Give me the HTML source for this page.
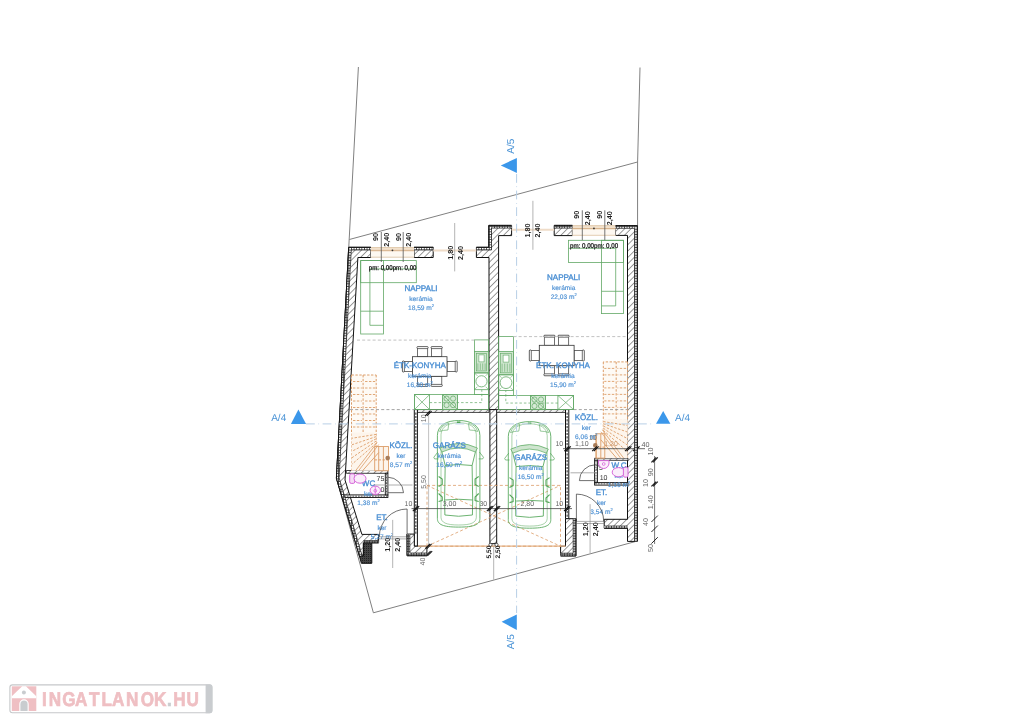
<!DOCTYPE html>
<html><head><meta charset="utf-8"><style>
html,body{margin:0;padding:0;background:#fff;width:1024px;height:724px;overflow:hidden}
svg{display:block;will-change:transform}
text{font-family:"Liberation Sans",sans-serif;text-rendering:geometricPrecision}
</style></head><body>
<svg width="1024" height="724" viewBox="0 0 1024 724">
<defs>
<pattern id="h" patternUnits="userSpaceOnUse" width="4.5" height="4.5" patternTransform="rotate(45)">
<rect width="4.5" height="4.5" fill="#fff"/><line x1="0" y1="0" x2="0" y2="4.5" stroke="#222" stroke-width="0.9"/></pattern>
<pattern id="x" patternUnits="userSpaceOnUse" width="2" height="2">
<rect width="2" height="2" fill="#444"/><rect width="1" height="1" fill="#222"/></pattern>
<pattern id="ins" patternUnits="userSpaceOnUse" width="2.6" height="2.6">
<rect width="2.6" height="2.6" fill="#fff"/><rect x="0" y="0" width="0.8" height="2.6" fill="#333"/><rect x="0" y="0" width="2.6" height="0.8" fill="#333"/></pattern>
</defs>
<polyline points="358.4,67 336.4,478.2 373.4,612.8 637.4,541" fill="none" stroke="#808080" stroke-width="1"/>
<polyline points="640,67.5 637.6,162 637.4,541" fill="none" stroke="#808080" stroke-width="1"/>
<line x1="349.3" y1="239.5" x2="637.5" y2="162" stroke="#808080" stroke-width="1" />
<polygon points="516.9,158 516.9,173.1 500.8,165.4" fill="#3b97ea"/>
<polygon points="516.8,614.4 516.8,630 501.6,621.8" fill="#3b97ea"/>
<polygon points="290.9,423.9 306.1,423.9 298.4,409.4" fill="#3b97ea"/>
<polygon points="656,423.8 670.4,423.8 663.2,411" fill="#3b97ea"/>
<text x="514.5" y="146.2" font-size="10" fill="#4a93d6" text-anchor="middle" font-weight="normal" transform="rotate(-90 514.5 146.2)" >A/5</text>
<text x="514.5" y="641.8" font-size="10" fill="#4a93d6" text-anchor="middle" font-weight="normal" transform="rotate(-90 514.5 641.8)" >A/5</text>
<text x="278.7" y="421" font-size="10" fill="#4a93d6" text-anchor="middle" font-weight="normal" >A/4</text>
<text x="682.5" y="421" font-size="10" fill="#4a93d6" text-anchor="middle" font-weight="normal" >A/4</text>
<polygon points="348.7,247.3 370.8,247.3 370.8,257.5 357.9,257.5 345.0,480 361.9,534.4 378.6,534.4 378.6,542.8 363.4,542.8 363.4,556 359.4,556 336.4,478.2" fill="url(#h)" stroke="#111" stroke-width="1" />
<polygon points="363.4,542.8 371.8,542.8 371.8,563.3 361.4,563.3 359.4,556 363.4,556" fill="url(#x)" stroke="#111" stroke-width="1" />
<polygon points="414.1,247.3 433.2,247.3 433.2,257.5 414.1,257.5" fill="url(#h)" stroke="#111" stroke-width="1" />
<polygon points="476.4,247.3 488.8,247.3 488.8,225.4 511.6,225.4 511.6,235.6 498.6,235.6 498.6,409.6 489,409.6 489,257.5 476.4,257.5" fill="url(#h)" stroke="#111" stroke-width="1" />
<polygon points="489.9,409.6 496.7,409.6 496.7,543.7 489.9,543.7" fill="url(#h)" stroke="#111" stroke-width="1" />
<polygon points="554.2,225.4 572.4,225.4 572.4,235.6 554.2,235.6" fill="url(#h)" stroke="#111" stroke-width="1" />
<polygon points="615.5,225.6 637.2,225.6 637.2,541.4 627.5,541.4 627.5,528.2 604.2,528.2 604.2,519.3 627.5,519.3 627.5,235.4 615.5,235.4" fill="url(#h)" stroke="#111" stroke-width="1" />
<polygon points="417.4,409.6 489,409.6 489,412.4 417.4,412.4" fill="url(#h)" stroke="#111" stroke-width="0.8" />
<polygon points="496.7,409.6 565.5,409.6 565.5,412.4 496.7,412.4" fill="url(#h)" stroke="#111" stroke-width="0.8" />
<polygon points="414.3,409.6 417.4,409.6 417.4,546.2 414.3,546.2" fill="#fff" stroke="#111" stroke-width="1" />
<line x1="415.85" y1="412.5" x2="415.85" y2="534" stroke="#666" stroke-width="1.5" stroke-dasharray="2.2,1.2"/>
<polygon points="407.1,534.1 414.3,534.1 414.3,546.2 426.9,546.2 426.9,555.7 407.1,555.7" fill="url(#h)" stroke="#111" stroke-width="1" />
<polygon points="565.5,409.6 568.8,409.6 568.8,518.7 565.5,518.7" fill="#fff" stroke="#111" stroke-width="1" />
<line x1="567.15" y1="412.5" x2="567.15" y2="518.7" stroke="#666" stroke-width="1.5" stroke-dasharray="2.2,1.2"/>
<polygon points="565.5,518.7 575.9,518.7 575.9,555.9 560.6,555.9 560.6,546.2 565.5,546.2" fill="url(#h)" stroke="#111" stroke-width="1" />
<rect x="370.8" y="247.3" width="43.30000000000001" height="10.199999999999989" fill="#fdf8f1"/>
<rect x="370.8" y="247.3" width="43.30000000000001" height="4.385999999999995" fill="#f4e3cf"/>
<line x1="370.8" y1="247.60000000000002" x2="414.1" y2="247.60000000000002" stroke="#dcc2a2" stroke-width="0.8" />
<line x1="370.8" y1="257.2" x2="414.1" y2="257.2" stroke="#dcc2a2" stroke-width="0.8" />
<line x1="370.8" y1="250.36" x2="414.1" y2="250.36" stroke="#d2ad86" stroke-width="0.9" />
<circle cx="392.45000000000005" cy="250.36" r="0.9" fill="#333"/>
<rect x="572.4" y="225.4" width="43.10000000000002" height="10.199999999999989" fill="#fdf8f1"/>
<rect x="572.4" y="225.4" width="43.10000000000002" height="4.385999999999995" fill="#f4e3cf"/>
<line x1="572.4" y1="225.70000000000002" x2="615.5" y2="225.70000000000002" stroke="#dcc2a2" stroke-width="0.8" />
<line x1="572.4" y1="235.29999999999998" x2="615.5" y2="235.29999999999998" stroke="#dcc2a2" stroke-width="0.8" />
<line x1="572.4" y1="228.46" x2="615.5" y2="228.46" stroke="#d2ad86" stroke-width="0.9" />
<circle cx="593.95" cy="228.46" r="0.9" fill="#333"/>
<line x1="433.2" y1="250.6" x2="476.4" y2="250.6" stroke="#efdcc8" stroke-width="2" />
<line x1="511.6" y1="229.7" x2="554.2" y2="229.7" stroke="#efdcc8" stroke-width="2" />
<polygon points="346.3,470.5 387.9,470.5 387.9,473.3 346.3,473.3" fill="url(#h)" stroke="#111" stroke-width="0.8" />
<rect x="343.5" y="494.9" width="44.39999999999998" height="2.6000000000000227" fill="#fff" stroke="#111" stroke-width="0.9"/>
<line x1="344.0" y1="496.2" x2="387.4" y2="496.2" stroke="#666" stroke-width="1.2" stroke-dasharray="1.8,1"/>
<rect x="385.3" y="473.3" width="2.599999999999966" height="21.599999999999966" fill="#fff" stroke="#111" stroke-width="0.9"/>
<line x1="386.6" y1="473.8" x2="386.6" y2="494.4" stroke="#666" stroke-width="1.2" stroke-dasharray="1.8,1"/>
<polygon points="594.6,458.2 628,458.2 628,460.3 594.6,460.3" fill="url(#h)" stroke="#111" stroke-width="0.8" />
<rect x="594.6" y="482.6" width="33.39999999999998" height="2.5" fill="#fff" stroke="#111" stroke-width="0.9"/>
<line x1="595.1" y1="483.85" x2="627.5" y2="483.85" stroke="#666" stroke-width="1.2" stroke-dasharray="1.8,1"/>
<rect x="594.6" y="460.3" width="2.7999999999999545" height="22.30000000000001" fill="#fff" stroke="#111" stroke-width="0.9"/>
<line x1="596.0" y1="460.8" x2="596.0" y2="482.1" stroke="#666" stroke-width="1.2" stroke-dasharray="1.8,1"/>
<rect x="360.7" y="260.6" width="55.6" height="22.1" fill="none" stroke="#62a866" stroke-width="0.8" />
<rect x="360.7" y="260.6" width="22.7" height="73.4" fill="none" stroke="#62a866" stroke-width="0.8" />
<polyline points="416.3,268.9 369.9,268.9 369.9,325.3 383.4,325.3" fill="none" stroke="#62a866" stroke-width="0.8" />
<line x1="360.7" y1="311.2" x2="383.4" y2="311.2" stroke="#62a866" stroke-width="0.8" />
<rect x="568.4" y="240.3" width="55.0" height="22.1" fill="none" stroke="#62a866" stroke-width="0.8" />
<rect x="601.6" y="240.3" width="21.8" height="73.3" fill="none" stroke="#62a866" stroke-width="0.8" />
<polyline points="568.4,248.3 615.7,248.3 615.7,305.9 601.6,305.9" fill="none" stroke="#62a866" stroke-width="0.8" />
<line x1="601.6" y1="291.3" x2="623.4" y2="291.3" stroke="#62a866" stroke-width="0.8" />
<rect x="474.4" y="339.9" width="14.200000000000045" height="54.700000000000045" fill="none" stroke="#62a866" stroke-width="0.8" />
<rect x="414.4" y="394.6" width="74.20000000000005" height="15.0" fill="none" stroke="#62a866" stroke-width="0.8" />
<rect x="474.4" y="351.4" width="14.200000000000045" height="21.5" fill="#cfe6cf" stroke="#62a866" stroke-width="0.8"/>
<rect x="476.4" y="353.4" width="10.200000000000045" height="17.5" fill="none" stroke="#62a866" stroke-width="0.6"/>
<rect x="478.9" y="354.9" width="5.2000000000000455" height="7" fill="#fff" stroke="#62a866" stroke-width="0.6"/>
<line x1="477.9" y1="363.4" x2="477.9" y2="369.9" stroke="#62a866" stroke-width="0.6" />
<line x1="480.3" y1="363.4" x2="480.3" y2="369.9" stroke="#62a866" stroke-width="0.6" />
<line x1="482.7" y1="363.4" x2="482.7" y2="369.9" stroke="#62a866" stroke-width="0.6" />
<line x1="485.1" y1="363.4" x2="485.1" y2="369.9" stroke="#62a866" stroke-width="0.6" />
<rect x="474.4" y="372.9" width="14.200000000000045" height="16.80000000000001" fill="none" stroke="#62a866" stroke-width="0.8"/>
<circle cx="481.5" cy="381.29999999999995" r="5.600000000000023" fill="none" stroke="#62a866" stroke-width="0.8"/>
<line x1="474.4" y1="372.9" x2="477.4" y2="375.9" stroke="#62a866" stroke-width="0.6" />
<line x1="488.6" y1="372.9" x2="485.6" y2="375.9" stroke="#62a866" stroke-width="0.6" />
<line x1="474.4" y1="389.7" x2="477.4" y2="386.7" stroke="#62a866" stroke-width="0.6" />
<line x1="488.6" y1="389.7" x2="485.6" y2="386.7" stroke="#62a866" stroke-width="0.6" />
<rect x="414.4" y="394.6" width="15.200000000000045" height="15.0" fill="none" stroke="#62a866" stroke-width="0.8" />
<line x1="414.4" y1="394.6" x2="429.6" y2="409.6" stroke="#62a866" stroke-width="0.7" />
<line x1="429.6" y1="394.6" x2="414.4" y2="409.6" stroke="#62a866" stroke-width="0.7" />
<rect x="442.6" y="394.6" width="14.899999999999977" height="15.0" fill="#d6ead6" stroke="#62a866" stroke-width="0.9"/>
<circle cx="446.6" cy="398.6" r="2.6" fill="none" stroke="#62a866" stroke-width="0.7"/>
<circle cx="453.1" cy="398.6" r="2.6" fill="none" stroke="#62a866" stroke-width="0.7"/>
<circle cx="446.6" cy="405.1" r="2.6" fill="none" stroke="#62a866" stroke-width="0.7"/>
<circle cx="453.1" cy="405.1" r="2.6" fill="none" stroke="#62a866" stroke-width="0.7"/>
<line x1="442.6" y1="394.6" x2="457.5" y2="409.6" stroke="#62a866" stroke-width="0.7" />
<polyline points="429.6,402.6 481.8,402.6 481.8,389.7" fill="none" stroke="#62a866" stroke-width="0.7" stroke-dasharray="2.5,2"/>
<rect x="498.6" y="336.6" width="14.799999999999955" height="58.89999999999998" fill="none" stroke="#62a866" stroke-width="0.8" />
<rect x="498.6" y="395.5" width="75.0" height="14.100000000000023" fill="none" stroke="#62a866" stroke-width="0.8" />
<rect x="498.6" y="351.6" width="14.799999999999955" height="23.19999999999999" fill="#cfe6cf" stroke="#62a866" stroke-width="0.8"/>
<rect x="500.6" y="353.6" width="10.799999999999955" height="19.19999999999999" fill="none" stroke="#62a866" stroke-width="0.6"/>
<rect x="503.1" y="355.1" width="5.7999999999999545" height="7" fill="#fff" stroke="#62a866" stroke-width="0.6"/>
<line x1="502.1" y1="363.6" x2="502.1" y2="371.8" stroke="#62a866" stroke-width="0.6" />
<line x1="504.7" y1="363.6" x2="504.7" y2="371.8" stroke="#62a866" stroke-width="0.6" />
<line x1="507.3" y1="363.6" x2="507.3" y2="371.8" stroke="#62a866" stroke-width="0.6" />
<line x1="509.9" y1="363.6" x2="509.9" y2="371.8" stroke="#62a866" stroke-width="0.6" />
<rect x="498.6" y="374.8" width="14.799999999999955" height="15.699999999999989" fill="none" stroke="#62a866" stroke-width="0.8"/>
<circle cx="506.0" cy="382.65" r="5.899999999999977" fill="none" stroke="#62a866" stroke-width="0.8"/>
<line x1="498.6" y1="374.8" x2="501.6" y2="377.8" stroke="#62a866" stroke-width="0.6" />
<line x1="513.4" y1="374.8" x2="510.4" y2="377.8" stroke="#62a866" stroke-width="0.6" />
<line x1="498.6" y1="390.5" x2="501.6" y2="387.5" stroke="#62a866" stroke-width="0.6" />
<line x1="513.4" y1="390.5" x2="510.4" y2="387.5" stroke="#62a866" stroke-width="0.6" />
<rect x="557.9" y="395.5" width="15.700000000000045" height="14.100000000000023" fill="none" stroke="#62a866" stroke-width="0.8" />
<line x1="557.9" y1="395.5" x2="573.6" y2="409.6" stroke="#62a866" stroke-width="0.7" />
<line x1="573.6" y1="395.5" x2="557.9" y2="409.6" stroke="#62a866" stroke-width="0.7" />
<rect x="530.5" y="395.5" width="15.0" height="14.100000000000023" fill="#d6ead6" stroke="#62a866" stroke-width="0.9"/>
<circle cx="534.5" cy="399.5" r="2.6" fill="none" stroke="#62a866" stroke-width="0.7"/>
<circle cx="541.0" cy="399.5" r="2.6" fill="none" stroke="#62a866" stroke-width="0.7"/>
<circle cx="534.5" cy="406.0" r="2.6" fill="none" stroke="#62a866" stroke-width="0.7"/>
<circle cx="541.0" cy="406.0" r="2.6" fill="none" stroke="#62a866" stroke-width="0.7"/>
<line x1="530.5" y1="395.5" x2="545.5" y2="409.6" stroke="#62a866" stroke-width="0.7" />
<polyline points="557.9,403.05 505.8,403.05 505.8,390.5" fill="none" stroke="#62a866" stroke-width="0.7" stroke-dasharray="2.5,2"/>
<rect x="417.4" y="347.09999999999997" width="10.3" height="9.6" fill="#fff" stroke="#333" stroke-width="0.7"/>
<rect x="416.9" y="346.59999999999997" width="11.3" height="2" rx="1" fill="#fff" stroke="#333" stroke-width="0.7"/>
<rect x="431.5" y="347.09999999999997" width="10.3" height="9.6" fill="#fff" stroke="#333" stroke-width="0.7"/>
<rect x="431.0" y="346.59999999999997" width="11.3" height="2" rx="1" fill="#fff" stroke="#333" stroke-width="0.7"/>
<rect x="417.4" y="376.3" width="10.3" height="9.6" fill="#fff" stroke="#333" stroke-width="0.7"/>
<rect x="416.9" y="384.40000000000003" width="11.3" height="2" rx="1" fill="#fff" stroke="#333" stroke-width="0.7"/>
<rect x="431.5" y="376.3" width="10.3" height="9.6" fill="#fff" stroke="#333" stroke-width="0.7"/>
<rect x="431.0" y="384.40000000000003" width="11.3" height="2" rx="1" fill="#fff" stroke="#333" stroke-width="0.7"/>
<rect x="402.9" y="361.4" width="9.5" height="10.2" fill="#fff" stroke="#333" stroke-width="0.7"/>
<rect x="402.4" y="360.9" width="2" height="11.2" rx="1" fill="#fff" stroke="#333" stroke-width="0.7"/>
<rect x="447.0" y="361.4" width="9.7" height="10.2" fill="#fff" stroke="#333" stroke-width="0.7"/>
<rect x="455.2" y="360.9" width="2" height="11.2" rx="1" fill="#fff" stroke="#333" stroke-width="0.7"/>
<rect x="412.4" y="356.7" width="34.60000000000002" height="19.600000000000023" fill="#fff" stroke="#333" stroke-width="0.8"/>
<rect x="544.3" y="335.7" width="10.3" height="9.6" fill="#fff" stroke="#333" stroke-width="0.7"/>
<rect x="543.8" y="335.2" width="11.3" height="2" rx="1" fill="#fff" stroke="#333" stroke-width="0.7"/>
<rect x="558.4" y="335.7" width="10.3" height="9.6" fill="#fff" stroke="#333" stroke-width="0.7"/>
<rect x="557.9" y="335.2" width="11.3" height="2" rx="1" fill="#fff" stroke="#333" stroke-width="0.7"/>
<rect x="544.3" y="365.7" width="10.3" height="9.6" fill="#fff" stroke="#333" stroke-width="0.7"/>
<rect x="543.8" y="373.8" width="11.3" height="2" rx="1" fill="#fff" stroke="#333" stroke-width="0.7"/>
<rect x="558.4" y="365.7" width="10.3" height="9.6" fill="#fff" stroke="#333" stroke-width="0.7"/>
<rect x="557.9" y="373.8" width="11.3" height="2" rx="1" fill="#fff" stroke="#333" stroke-width="0.7"/>
<rect x="529.8" y="350.4" width="9.5" height="10.2" fill="#fff" stroke="#333" stroke-width="0.7"/>
<rect x="529.3" y="349.9" width="2" height="11.2" rx="1" fill="#fff" stroke="#333" stroke-width="0.7"/>
<rect x="574.1" y="350.4" width="9.7" height="10.2" fill="#fff" stroke="#333" stroke-width="0.7"/>
<rect x="582.3000000000001" y="349.9" width="2" height="11.2" rx="1" fill="#fff" stroke="#333" stroke-width="0.7"/>
<rect x="539.3" y="345.3" width="34.80000000000007" height="20.399999999999977" fill="#fff" stroke="#333" stroke-width="0.8"/>
<rect x="351.5" y="375" width="24.69999999999999" height="71.56259999999997" fill="#fefaf5" stroke="none"/>
<line x1="351.5" y1="375" x2="376.2" y2="375" stroke="#dc9d68" stroke-width="1" stroke-dasharray="2.4,1.5"/>
<line x1="376.2" y1="375" x2="376.2" y2="446.5626" stroke="#dc9d68" stroke-width="1" stroke-dasharray="2.4,1.5"/>
<line x1="351.5" y1="375" x2="351.5" y2="470.8" stroke="#dc9d68" stroke-width="1" stroke-dasharray="2.4,1.5"/>
<line x1="353.0" y1="381.5" x2="361.874" y2="381.5" stroke="#dc9d68" stroke-width="0.9" stroke-dasharray="2.4,1.5"/>
<line x1="365.085" y1="381.5" x2="375.2" y2="381.5" stroke="#dc9d68" stroke-width="0.9" stroke-dasharray="2.4,1.5"/>
<line x1="353.0" y1="388.0" x2="361.874" y2="388.0" stroke="#dc9d68" stroke-width="0.9" stroke-dasharray="2.4,1.5"/>
<line x1="365.085" y1="388.0" x2="375.2" y2="388.0" stroke="#dc9d68" stroke-width="0.9" stroke-dasharray="2.4,1.5"/>
<line x1="353.0" y1="394.5" x2="361.874" y2="394.5" stroke="#dc9d68" stroke-width="0.9" stroke-dasharray="2.4,1.5"/>
<line x1="365.085" y1="394.5" x2="375.2" y2="394.5" stroke="#dc9d68" stroke-width="0.9" stroke-dasharray="2.4,1.5"/>
<line x1="353.0" y1="401.0" x2="361.874" y2="401.0" stroke="#dc9d68" stroke-width="0.9" stroke-dasharray="2.4,1.5"/>
<line x1="365.085" y1="401.0" x2="375.2" y2="401.0" stroke="#dc9d68" stroke-width="0.9" stroke-dasharray="2.4,1.5"/>
<line x1="353.0" y1="407.5" x2="361.874" y2="407.5" stroke="#dc9d68" stroke-width="0.9" stroke-dasharray="2.4,1.5"/>
<line x1="365.085" y1="407.5" x2="375.2" y2="407.5" stroke="#dc9d68" stroke-width="0.9" stroke-dasharray="2.4,1.5"/>
<line x1="353.0" y1="414.0" x2="361.874" y2="414.0" stroke="#dc9d68" stroke-width="0.9" stroke-dasharray="2.4,1.5"/>
<line x1="365.085" y1="414.0" x2="375.2" y2="414.0" stroke="#dc9d68" stroke-width="0.9" stroke-dasharray="2.4,1.5"/>
<line x1="353.0" y1="420.5" x2="361.874" y2="420.5" stroke="#dc9d68" stroke-width="0.9" stroke-dasharray="2.4,1.5"/>
<line x1="365.085" y1="420.5" x2="375.2" y2="420.5" stroke="#dc9d68" stroke-width="0.9" stroke-dasharray="2.4,1.5"/>
<line x1="353.0" y1="427.0" x2="361.874" y2="427.0" stroke="#dc9d68" stroke-width="0.9" stroke-dasharray="2.4,1.5"/>
<line x1="365.085" y1="427.0" x2="375.2" y2="427.0" stroke="#dc9d68" stroke-width="0.9" stroke-dasharray="2.4,1.5"/>
<line x1="353.0" y1="433.5" x2="361.874" y2="433.5" stroke="#dc9d68" stroke-width="0.9" stroke-dasharray="2.4,1.5"/>
<line x1="365.085" y1="433.5" x2="375.2" y2="433.5" stroke="#dc9d68" stroke-width="0.9" stroke-dasharray="2.4,1.5"/>
<line x1="363.109" y1="375" x2="363.109" y2="442.06" stroke="#dc9d68" stroke-width="1" stroke-dasharray="2.4,1.5"/>
<line x1="376.2" y1="434.396" x2="352.0" y2="438.228" stroke="#dc9d68" stroke-width="0.9" stroke-dasharray="2.4,1.5"/>
<line x1="376.2" y1="436.596" x2="352.0" y2="444.728" stroke="#dc9d68" stroke-width="0.9" stroke-dasharray="2.4,1.5"/>
<line x1="376.2" y1="438.796" x2="352.0" y2="451.228" stroke="#dc9d68" stroke-width="0.9" stroke-dasharray="2.4,1.5"/>
<line x1="376.2" y1="440.99600000000004" x2="352.0" y2="457.728" stroke="#dc9d68" stroke-width="0.9" stroke-dasharray="2.4,1.5"/>
<line x1="376.2" y1="443.196" x2="352.0" y2="464.228" stroke="#dc9d68" stroke-width="0.9" stroke-dasharray="2.4,1.5"/>
<rect x="351.5" y="432.48" width="24.69999999999999" height="38.31999999999999" fill="#fdf5ec" stroke="none"/>
<rect x="374.7" y="446.5626" width="13.800000000000011" height="24.237400000000036" fill="#fdf5ec" stroke="#dc9d68" stroke-width="0.9"/>
<line x1="378.7" y1="446.5626" x2="378.7" y2="470.8" stroke="#dc9d68" stroke-width="0.9" />
<line x1="383.4" y1="446.5626" x2="383.4" y2="470.8" stroke="#dc9d68" stroke-width="0.9" />
<line x1="376.2" y1="434.396" x2="352.0" y2="438.228" stroke="#dc9d68" stroke-width="0.9" stroke-dasharray="2.4,1.5"/>
<line x1="376.2" y1="436.596" x2="352.0" y2="444.728" stroke="#dc9d68" stroke-width="0.9" stroke-dasharray="2.4,1.5"/>
<line x1="376.2" y1="438.796" x2="352.0" y2="451.228" stroke="#dc9d68" stroke-width="0.9" stroke-dasharray="2.4,1.5"/>
<line x1="376.2" y1="440.99600000000004" x2="352.0" y2="457.728" stroke="#dc9d68" stroke-width="0.9" stroke-dasharray="2.4,1.5"/>
<line x1="376.2" y1="443.196" x2="352.0" y2="464.228" stroke="#dc9d68" stroke-width="0.9" stroke-dasharray="2.4,1.5"/>
<line x1="374.7" y1="459.89317" x2="388.5" y2="459.89317" stroke="#dc9d68" stroke-width="1" stroke-dasharray="2.4,1.5"/>
<line x1="355.5" y1="470.8" x2="377.2" y2="442.5626" stroke="#dc9d68" stroke-width="0.8" />
<line x1="358.5" y1="470.8" x2="378.7" y2="444.5626" stroke="#dc9d68" stroke-width="0.8" />
<line x1="362.5" y1="470.8" x2="378.7" y2="452.5626" stroke="#dc9d68" stroke-width="0.9" />
<circle cx="387.7" cy="458" r="2.3" fill="#a87c58"/>
<rect x="603.3" y="361.9" width="24.300000000000068" height="71.8614" fill="#fefaf5" stroke="none"/>
<line x1="627.6" y1="361.9" x2="603.3" y2="361.9" stroke="#dc9d68" stroke-width="1" stroke-dasharray="2.4,1.5"/>
<line x1="603.3" y1="361.9" x2="603.3" y2="433.7614" stroke="#dc9d68" stroke-width="1" stroke-dasharray="2.4,1.5"/>
<line x1="627.6" y1="361.9" x2="627.6" y2="458.1" stroke="#dc9d68" stroke-width="1" stroke-dasharray="2.4,1.5"/>
<line x1="626.1" y1="368.4" x2="617.394" y2="368.4" stroke="#dc9d68" stroke-width="0.9" stroke-dasharray="2.4,1.5"/>
<line x1="614.235" y1="368.4" x2="604.3" y2="368.4" stroke="#dc9d68" stroke-width="0.9" stroke-dasharray="2.4,1.5"/>
<line x1="626.1" y1="374.9" x2="617.394" y2="374.9" stroke="#dc9d68" stroke-width="0.9" stroke-dasharray="2.4,1.5"/>
<line x1="614.235" y1="374.9" x2="604.3" y2="374.9" stroke="#dc9d68" stroke-width="0.9" stroke-dasharray="2.4,1.5"/>
<line x1="626.1" y1="381.4" x2="617.394" y2="381.4" stroke="#dc9d68" stroke-width="0.9" stroke-dasharray="2.4,1.5"/>
<line x1="614.235" y1="381.4" x2="604.3" y2="381.4" stroke="#dc9d68" stroke-width="0.9" stroke-dasharray="2.4,1.5"/>
<line x1="626.1" y1="387.9" x2="617.394" y2="387.9" stroke="#dc9d68" stroke-width="0.9" stroke-dasharray="2.4,1.5"/>
<line x1="614.235" y1="387.9" x2="604.3" y2="387.9" stroke="#dc9d68" stroke-width="0.9" stroke-dasharray="2.4,1.5"/>
<line x1="626.1" y1="394.4" x2="617.394" y2="394.4" stroke="#dc9d68" stroke-width="0.9" stroke-dasharray="2.4,1.5"/>
<line x1="614.235" y1="394.4" x2="604.3" y2="394.4" stroke="#dc9d68" stroke-width="0.9" stroke-dasharray="2.4,1.5"/>
<line x1="626.1" y1="400.9" x2="617.394" y2="400.9" stroke="#dc9d68" stroke-width="0.9" stroke-dasharray="2.4,1.5"/>
<line x1="614.235" y1="400.9" x2="604.3" y2="400.9" stroke="#dc9d68" stroke-width="0.9" stroke-dasharray="2.4,1.5"/>
<line x1="626.1" y1="407.4" x2="617.394" y2="407.4" stroke="#dc9d68" stroke-width="0.9" stroke-dasharray="2.4,1.5"/>
<line x1="614.235" y1="407.4" x2="604.3" y2="407.4" stroke="#dc9d68" stroke-width="0.9" stroke-dasharray="2.4,1.5"/>
<line x1="626.1" y1="413.9" x2="617.394" y2="413.9" stroke="#dc9d68" stroke-width="0.9" stroke-dasharray="2.4,1.5"/>
<line x1="614.235" y1="413.9" x2="604.3" y2="413.9" stroke="#dc9d68" stroke-width="0.9" stroke-dasharray="2.4,1.5"/>
<line x1="626.1" y1="420.4" x2="617.394" y2="420.4" stroke="#dc9d68" stroke-width="0.9" stroke-dasharray="2.4,1.5"/>
<line x1="614.235" y1="420.4" x2="604.3" y2="420.4" stroke="#dc9d68" stroke-width="0.9" stroke-dasharray="2.4,1.5"/>
<line x1="616.179" y1="361.9" x2="616.179" y2="429.24" stroke="#dc9d68" stroke-width="1" stroke-dasharray="2.4,1.5"/>
<line x1="603.3" y1="421.544" x2="627.1" y2="425.392" stroke="#dc9d68" stroke-width="0.9" stroke-dasharray="2.4,1.5"/>
<line x1="603.3" y1="423.74399999999997" x2="627.1" y2="431.892" stroke="#dc9d68" stroke-width="0.9" stroke-dasharray="2.4,1.5"/>
<line x1="603.3" y1="425.94399999999996" x2="627.1" y2="438.392" stroke="#dc9d68" stroke-width="0.9" stroke-dasharray="2.4,1.5"/>
<line x1="603.3" y1="428.144" x2="627.1" y2="444.892" stroke="#dc9d68" stroke-width="0.9" stroke-dasharray="2.4,1.5"/>
<line x1="603.3" y1="430.344" x2="627.1" y2="451.392" stroke="#dc9d68" stroke-width="0.9" stroke-dasharray="2.4,1.5"/>
<rect x="603.3" y="419.62" width="24.300000000000068" height="38.48000000000002" fill="#fdf5ec" stroke="none"/>
<rect x="596.1" y="433.7614" width="8.699999999999932" height="24.338600000000042" fill="#fdf5ec" stroke="#dc9d68" stroke-width="0.9"/>
<line x1="600.8" y1="433.7614" x2="600.8" y2="458.1" stroke="#dc9d68" stroke-width="0.9" />
<line x1="596.0999999999999" y1="433.7614" x2="596.0999999999999" y2="458.1" stroke="#dc9d68" stroke-width="0.9" />
<line x1="603.3" y1="421.544" x2="627.1" y2="425.392" stroke="#dc9d68" stroke-width="0.9" stroke-dasharray="2.4,1.5"/>
<line x1="603.3" y1="423.74399999999997" x2="627.1" y2="431.892" stroke="#dc9d68" stroke-width="0.9" stroke-dasharray="2.4,1.5"/>
<line x1="603.3" y1="425.94399999999996" x2="627.1" y2="438.392" stroke="#dc9d68" stroke-width="0.9" stroke-dasharray="2.4,1.5"/>
<line x1="603.3" y1="428.144" x2="627.1" y2="444.892" stroke="#dc9d68" stroke-width="0.9" stroke-dasharray="2.4,1.5"/>
<line x1="603.3" y1="430.344" x2="627.1" y2="451.392" stroke="#dc9d68" stroke-width="0.9" stroke-dasharray="2.4,1.5"/>
<line x1="604.8" y1="447.14763" x2="596.1" y2="447.14763" stroke="#dc9d68" stroke-width="1" stroke-dasharray="2.4,1.5"/>
<line x1="623.6" y1="458.1" x2="602.3" y2="429.7614" stroke="#dc9d68" stroke-width="0.8" />
<line x1="620.6" y1="458.1" x2="600.8" y2="431.7614" stroke="#dc9d68" stroke-width="0.8" />
<line x1="616.6" y1="458.1" x2="600.8" y2="439.7614" stroke="#dc9d68" stroke-width="0.9" />
<circle cx="595.3" cy="445.4" r="2.3" fill="#a87c58"/>
<line x1="357" y1="340.1" x2="474.4" y2="340.1" stroke="#bbb" stroke-width="0.9" stroke-dasharray="3,2.2"/>
<line x1="350" y1="409.6" x2="414.4" y2="409.6" stroke="#999" stroke-width="0.9" stroke-dasharray="3,2.2"/>
<line x1="513.4" y1="336.6" x2="627.5" y2="336.6" stroke="#bbb" stroke-width="0.9" stroke-dasharray="3,2.2"/>
<line x1="573.6" y1="409.6" x2="627.5" y2="409.6" stroke="#999" stroke-width="0.9" stroke-dasharray="3,2.2"/>
<line x1="418" y1="546.2" x2="565.5" y2="546.2" stroke="#e6b48a" stroke-width="1.2" />
<rect x="427" y="485.4" width="133.5" height="60.8" fill="none" stroke="#dc9d68" stroke-width="0.8" stroke-dasharray="3,2.2"/>
<line x1="427" y1="485.4" x2="560.5" y2="546.2" stroke="#dc9d68" stroke-width="0.8" stroke-dasharray="3,2.2"/>
<line x1="427" y1="546.2" x2="560.5" y2="485.4" stroke="#dc9d68" stroke-width="0.8" stroke-dasharray="3,2.2"/>
<line x1="428.6" y1="412.4" x2="428.6" y2="546.2" stroke="#999" stroke-width="0.6" />
<g transform="translate(437.4,420.5)" fill="none" stroke="#52a557" stroke-width="0.85"><path d="M0,15 C0,5 9,0 21.25,0 C33.5,0 42.5,5 42.5,15 L42.5,98 C42.5,104 37,106.6 21.25,106.6 C5.5,106.6 0,104 0,98 Z"/><path d="M3.6,14 C4,6 11,2.2 21.25,2.2 C31.5,2.2 38.5,6 38.9,14 L38.9,97 C38.5,102 34,104.5 21.25,104.5 C8.5,104.5 4,102 3.6,97 Z" stroke-width="0.5"/><path d="M2.2,11 Q4.5,4 11.5,2.8 L10.5,9.5 Q6,9.5 2.2,11 Z M40.3,11 Q38,4 31,2.8 L32,9.5 Q36.5,9.5 40.3,11 Z" stroke-width="0.6"/><path d="M2.5,27.5 Q21.25,18.5 40,27.5 L38,31.5 Q21.25,23.5 4.5,31.5 Z" fill="#cfe5cf" stroke-width="0.7"/><path d="M4.5,31.5 L7.8,45 Q21.25,43 34.7,45 L38,31.5"/><path d="M7.8,45 L7.2,79.5 M34.7,45 L35.3,79.5"/><path d="M7.2,79.5 Q21.25,78 35.3,79.5 L35,94.5 Q21.25,97 7.5,94.5 Z"/><path d="M0.5,31.5 L-3.6,36.8 L-2.8,38.4 L1.2,38.4 M42,31.5 L46.1,36.8 L45.3,38.4 L41.3,38.4" stroke-width="0.7"/><path d="M1.2,56 L4.8,58.5 L4.8,64 L1.2,66 M41.3,56 L37.7,58.5 L37.7,64 L41.3,66 M1.2,73 L4.8,76.5 L4.8,80 L1.2,81 M41.3,73 L37.7,76.5 L37.7,80 L41.3,81" stroke-width="1.1"/><rect x="19.5" y="0.9" width="3.5" height="1.6" fill="#52a557" stroke="none"/></g>
<g transform="translate(508.3,421.6)" fill="none" stroke="#52a557" stroke-width="0.85"><path d="M0,15 C0,5 9,0 21.25,0 C33.5,0 42.5,5 42.5,15 L42.5,98 C42.5,104 37,106.6 21.25,106.6 C5.5,106.6 0,104 0,98 Z"/><path d="M3.6,14 C4,6 11,2.2 21.25,2.2 C31.5,2.2 38.5,6 38.9,14 L38.9,97 C38.5,102 34,104.5 21.25,104.5 C8.5,104.5 4,102 3.6,97 Z" stroke-width="0.5"/><path d="M2.2,11 Q4.5,4 11.5,2.8 L10.5,9.5 Q6,9.5 2.2,11 Z M40.3,11 Q38,4 31,2.8 L32,9.5 Q36.5,9.5 40.3,11 Z" stroke-width="0.6"/><path d="M2.5,27.5 Q21.25,18.5 40,27.5 L38,31.5 Q21.25,23.5 4.5,31.5 Z" fill="#cfe5cf" stroke-width="0.7"/><path d="M4.5,31.5 L7.8,45 Q21.25,43 34.7,45 L38,31.5"/><path d="M7.8,45 L7.2,79.5 M34.7,45 L35.3,79.5"/><path d="M7.2,79.5 Q21.25,78 35.3,79.5 L35,94.5 Q21.25,97 7.5,94.5 Z"/><path d="M0.5,31.5 L-3.6,36.8 L-2.8,38.4 L1.2,38.4 M42,31.5 L46.1,36.8 L45.3,38.4 L41.3,38.4" stroke-width="0.7"/><path d="M1.2,56 L4.8,58.5 L4.8,64 L1.2,66 M41.3,56 L37.7,58.5 L37.7,64 L41.3,66 M1.2,73 L4.8,76.5 L4.8,80 L1.2,81 M41.3,73 L37.7,76.5 L37.7,80 L41.3,81" stroke-width="1.1"/><rect x="19.5" y="0.9" width="3.5" height="1.6" fill="#52a557" stroke="none"/></g>
<text x="421" y="291.2" font-size="8.0" fill="#4b8fd3" text-anchor="middle" font-weight="normal" letter-spacing="0" stroke="#4b8fd3" stroke-width="0.35">NAPPALI</text>
<text x="421" y="301.2" font-size="6.6" fill="#4b8fd3" text-anchor="middle" font-weight="normal" stroke="#4b8fd3" stroke-width="0.15">kerámia</text>
<text x="421" y="310.2" font-size="6.6" fill="#4b8fd3" text-anchor="middle" font-weight="normal" stroke="#4b8fd3" stroke-width="0.15">18,59 m<tspan dy="-3" font-size="4">2</tspan></text>
<text x="563.7" y="280.2" font-size="8.0" fill="#4b8fd3" text-anchor="middle" font-weight="normal" letter-spacing="0" stroke="#4b8fd3" stroke-width="0.35">NAPPALI</text>
<text x="563.7" y="290.2" font-size="6.6" fill="#4b8fd3" text-anchor="middle" font-weight="normal" stroke="#4b8fd3" stroke-width="0.15">kerámia</text>
<text x="563.7" y="299.2" font-size="6.6" fill="#4b8fd3" text-anchor="middle" font-weight="normal" stroke="#4b8fd3" stroke-width="0.15">22,03 m<tspan dy="-3" font-size="4">2</tspan></text>
<text x="419.8" y="367.8" font-size="8.0" fill="#4b8fd3" text-anchor="middle" font-weight="normal" letter-spacing="0" stroke="#4b8fd3" stroke-width="0.35">ÉTK-KONYHA</text>
<text x="419.8" y="377.8" font-size="6.6" fill="#4b8fd3" text-anchor="middle" font-weight="normal" stroke="#4b8fd3" stroke-width="0.15">kerámia</text>
<text x="419.8" y="386.8" font-size="6.6" fill="#4b8fd3" text-anchor="middle" font-weight="normal" stroke="#4b8fd3" stroke-width="0.15">16,30 m<tspan dy="-3" font-size="4">2</tspan></text>
<text x="563" y="367.8" font-size="8.0" fill="#4b8fd3" text-anchor="middle" font-weight="normal" letter-spacing="0" stroke="#4b8fd3" stroke-width="0.35">ÉTK. KONYHA</text>
<text x="563" y="377.8" font-size="6.6" fill="#4b8fd3" text-anchor="middle" font-weight="normal" stroke="#4b8fd3" stroke-width="0.15">kerámia</text>
<text x="563" y="386.8" font-size="6.6" fill="#4b8fd3" text-anchor="middle" font-weight="normal" stroke="#4b8fd3" stroke-width="0.15">15,90 m<tspan dy="-3" font-size="4">2</tspan></text>
<text x="449.3" y="447.7" font-size="8.0" fill="#4b8fd3" text-anchor="middle" font-weight="normal" letter-spacing="0" stroke="#4b8fd3" stroke-width="0.35">GARÁZS</text>
<text x="449.3" y="457.7" font-size="6.6" fill="#4b8fd3" text-anchor="middle" font-weight="normal" stroke="#4b8fd3" stroke-width="0.15">kerámia</text>
<text x="449.3" y="466.7" font-size="6.6" fill="#4b8fd3" text-anchor="middle" font-weight="normal" stroke="#4b8fd3" stroke-width="0.15">16,50 m<tspan dy="-3" font-size="4">2</tspan></text>
<text x="530.7" y="459.7" font-size="8.0" fill="#4b8fd3" text-anchor="middle" font-weight="normal" letter-spacing="0" stroke="#4b8fd3" stroke-width="0.35">GARÁZS</text>
<text x="530.7" y="469.7" font-size="6.6" fill="#4b8fd3" text-anchor="middle" font-weight="normal" stroke="#4b8fd3" stroke-width="0.15">kerámia</text>
<text x="530.7" y="478.7" font-size="6.6" fill="#4b8fd3" text-anchor="middle" font-weight="normal" stroke="#4b8fd3" stroke-width="0.15">16,50 m<tspan dy="-3" font-size="4">2</tspan></text>
<text x="401" y="448.3" font-size="8.0" fill="#4b8fd3" text-anchor="middle" font-weight="normal" letter-spacing="0" stroke="#4b8fd3" stroke-width="0.35">KÖZL.</text>
<text x="401" y="458.3" font-size="6.6" fill="#4b8fd3" text-anchor="middle" font-weight="normal" stroke="#4b8fd3" stroke-width="0.15">ker</text>
<text x="401" y="467.3" font-size="6.6" fill="#4b8fd3" text-anchor="middle" font-weight="normal" stroke="#4b8fd3" stroke-width="0.15">8,57 m<tspan dy="-3" font-size="4">2</tspan></text>
<text x="586.3" y="420" font-size="8.0" fill="#4b8fd3" text-anchor="middle" font-weight="normal" letter-spacing="0" stroke="#4b8fd3" stroke-width="0.35">KÖZL.</text>
<text x="586.3" y="430" font-size="6.6" fill="#4b8fd3" text-anchor="middle" font-weight="normal" stroke="#4b8fd3" stroke-width="0.15">ker</text>
<text x="586.3" y="439" font-size="6.6" fill="#4b8fd3" text-anchor="middle" font-weight="normal" stroke="#4b8fd3" stroke-width="0.15">6,06 m<tspan dy="-3" font-size="4">2</tspan></text>
<text x="368.5" y="486" font-size="8.0" fill="#4b8fd3" text-anchor="middle" font-weight="normal" letter-spacing="0" stroke="#4b8fd3" stroke-width="0.35">WC</text>
<text x="368.5" y="496" font-size="6.6" fill="#4b8fd3" text-anchor="middle" font-weight="normal" stroke="#4b8fd3" stroke-width="0.15">ker</text>
<text x="368.5" y="505" font-size="6.6" fill="#4b8fd3" text-anchor="middle" font-weight="normal" stroke="#4b8fd3" stroke-width="0.15">1,38 m<tspan dy="-3" font-size="4">2</tspan></text>
<text x="619" y="468" font-size="8.0" fill="#4b8fd3" text-anchor="middle" font-weight="normal" letter-spacing="0" stroke="#4b8fd3" stroke-width="0.35">W.C</text>
<text x="619" y="478" font-size="6.6" fill="#4b8fd3" text-anchor="middle" font-weight="normal" stroke="#4b8fd3" stroke-width="0.15">ker</text>
<text x="619" y="487" font-size="6.6" fill="#4b8fd3" text-anchor="middle" font-weight="normal" stroke="#4b8fd3" stroke-width="0.15">1,16 m<tspan dy="-3" font-size="4">2</tspan></text>
<text x="382" y="520.4" font-size="8.0" fill="#4b8fd3" text-anchor="middle" font-weight="normal" letter-spacing="0" stroke="#4b8fd3" stroke-width="0.35">ET.</text>
<text x="382" y="530.4" font-size="6.6" fill="#4b8fd3" text-anchor="middle" font-weight="normal" stroke="#4b8fd3" stroke-width="0.15">ker</text>
<text x="382" y="539.4" font-size="6.6" fill="#4b8fd3" text-anchor="middle" font-weight="normal" stroke="#4b8fd3" stroke-width="0.15">5,27 m<tspan dy="-3" font-size="4">2</tspan></text>
<text x="601.5" y="494.6" font-size="8.0" fill="#4b8fd3" text-anchor="middle" font-weight="normal" letter-spacing="0" stroke="#4b8fd3" stroke-width="0.35">ET.</text>
<text x="601.5" y="504.6" font-size="6.6" fill="#4b8fd3" text-anchor="middle" font-weight="normal" stroke="#4b8fd3" stroke-width="0.15">ker</text>
<text x="601.5" y="513.6" font-size="6.6" fill="#4b8fd3" text-anchor="middle" font-weight="normal" stroke="#4b8fd3" stroke-width="0.15">3,54 m<tspan dy="-3" font-size="4">2</tspan></text>
<line x1="381.3" y1="232" x2="381.3" y2="262" stroke="#555" stroke-width="0.8" />
<line x1="403.2" y1="232" x2="403.2" y2="262" stroke="#555" stroke-width="0.8" />
<text x="375.9" y="236.9" font-size="7.2" fill="#1e1e1e" font-weight="bold" text-anchor="middle" dominant-baseline="central" transform="rotate(-90 375.9 236.9)">90</text>
<text x="386.4" y="239.8" font-size="7.2" fill="#1e1e1e" font-weight="bold" text-anchor="middle" dominant-baseline="central" transform="rotate(-90 386.4 239.8)">2,40</text>
<text x="398.9" y="236.9" font-size="7.2" fill="#1e1e1e" font-weight="bold" text-anchor="middle" dominant-baseline="central" transform="rotate(-90 398.9 236.9)">90</text>
<text x="408.3" y="239.8" font-size="7.2" fill="#1e1e1e" font-weight="bold" text-anchor="middle" dominant-baseline="central" transform="rotate(-90 408.3 239.8)">2,40</text>
<line x1="454.7" y1="223" x2="454.7" y2="271.4" stroke="#ababab" stroke-width="0.9" />
<text x="450.3" y="252.7" font-size="7.2" fill="#1e1e1e" font-weight="bold" text-anchor="middle" dominant-baseline="central" transform="rotate(-90 450.3 252.7)">1,80</text>
<text x="460.2" y="253" font-size="7.2" fill="#1e1e1e" font-weight="bold" text-anchor="middle" dominant-baseline="central" transform="rotate(-90 460.2 253)">2,40</text>
<line x1="582.3" y1="210.3" x2="582.3" y2="240.2" stroke="#555" stroke-width="0.8" />
<line x1="604.8" y1="210.3" x2="604.8" y2="240.2" stroke="#555" stroke-width="0.8" />
<text x="576.5" y="214.7" font-size="7.2" fill="#1e1e1e" font-weight="bold" text-anchor="middle" dominant-baseline="central" transform="rotate(-90 576.5 214.7)">90</text>
<text x="587.6" y="218.2" font-size="7.2" fill="#1e1e1e" font-weight="bold" text-anchor="middle" dominant-baseline="central" transform="rotate(-90 587.6 218.2)">2,40</text>
<text x="599.3" y="214.7" font-size="7.2" fill="#1e1e1e" font-weight="bold" text-anchor="middle" dominant-baseline="central" transform="rotate(-90 599.3 214.7)">90</text>
<text x="609.9" y="218.2" font-size="7.2" fill="#1e1e1e" font-weight="bold" text-anchor="middle" dominant-baseline="central" transform="rotate(-90 609.9 218.2)">2,40</text>
<line x1="532.9" y1="200.8" x2="532.9" y2="249.8" stroke="#ababab" stroke-width="0.9" />
<text x="527.9" y="230.4" font-size="7.2" fill="#1e1e1e" font-weight="bold" text-anchor="middle" dominant-baseline="central" transform="rotate(-90 527.9 230.4)">1,80</text>
<text x="537.8" y="230.6" font-size="7.2" fill="#1e1e1e" font-weight="bold" text-anchor="middle" dominant-baseline="central" transform="rotate(-90 537.8 230.6)">2,40</text>
<text x="368.8" y="269.8" font-size="6.8" fill="#151515" stroke="#151515" stroke-width="0.25" textLength="47.7" lengthAdjust="spacingAndGlyphs">pm: 0,00pm: 0,00</text>
<text x="570" y="247.8" font-size="6.8" fill="#151515" stroke="#151515" stroke-width="0.25" textLength="48.1" lengthAdjust="spacingAndGlyphs">pm: 0,00pm: 0,00</text>
<line x1="411.5" y1="508.6" x2="572" y2="508.6" stroke="#444" stroke-width="0.8" />
<line x1="412.79583694396575" y1="511.00416305603426" x2="417.6041630560342" y2="506.1958369439658" stroke="#111" stroke-width="1.05" />
<line x1="414.3958369439658" y1="511.00416305603426" x2="419.20416305603425" y2="506.1958369439658" stroke="#111" stroke-width="1.05" />
<line x1="486.79583694396575" y1="511.00416305603426" x2="491.6041630560342" y2="506.1958369439658" stroke="#111" stroke-width="1.05" />
<line x1="488.3958369439658" y1="511.00416305603426" x2="493.20416305603425" y2="506.1958369439658" stroke="#111" stroke-width="1.05" />
<line x1="493.79583694396575" y1="511.00416305603426" x2="498.6041630560342" y2="506.1958369439658" stroke="#111" stroke-width="1.05" />
<line x1="495.3958369439658" y1="511.00416305603426" x2="500.20416305603425" y2="506.1958369439658" stroke="#111" stroke-width="1.05" />
<line x1="563.9958369439659" y1="511.00416305603426" x2="568.8041630560343" y2="506.1958369439658" stroke="#111" stroke-width="1.05" />
<line x1="565.5958369439658" y1="511.00416305603426" x2="570.4041630560342" y2="506.1958369439658" stroke="#111" stroke-width="1.05" />
<text x="408.5" y="504.2" font-size="7" fill="#666" font-weight="normal" text-anchor="middle" dominant-baseline="central">10</text>
<text x="449.5" y="504.6" font-size="7" fill="#666" font-weight="normal" text-anchor="middle" dominant-baseline="central">3,00</text>
<text x="483.3" y="504.6" font-size="7" fill="#666" font-weight="normal" text-anchor="middle" dominant-baseline="central">30</text>
<text x="527.3" y="504.6" font-size="7" fill="#666" font-weight="normal" text-anchor="middle" dominant-baseline="central">2,80</text>
<text x="559.3" y="504.4" font-size="7" fill="#666" font-weight="normal" text-anchor="middle" dominant-baseline="central">10</text>
<text x="424.4" y="482" font-size="7" fill="#666" font-weight="normal" text-anchor="middle" dominant-baseline="central" transform="rotate(-90 424.4 482)">5,50</text>
<text x="424.2" y="418.3" font-size="7" fill="#666" font-weight="normal" text-anchor="middle" dominant-baseline="central" transform="rotate(-90 424.2 418.3)">10</text>
<line x1="425.19583694396573" y1="415.90416305603424" x2="430.0041630560342" y2="411.09583694396576" stroke="#111" stroke-width="1.05" />
<line x1="426.79583694396575" y1="415.90416305603424" x2="431.6041630560342" y2="411.09583694396576" stroke="#111" stroke-width="1.05" />
<line x1="425.19583694396573" y1="548.6041630560343" x2="430.0041630560342" y2="543.7958369439658" stroke="#111" stroke-width="1.05" />
<line x1="426.79583694396575" y1="548.6041630560343" x2="431.6041630560342" y2="543.7958369439658" stroke="#111" stroke-width="1.05" />
<text x="423.8" y="561.5" font-size="7" fill="#666" font-weight="normal" text-anchor="middle" dominant-baseline="central" transform="rotate(-90 423.8 561.5)">40</text>
<line x1="425.79583694396575" y1="555.9041630560342" x2="430.6041630560342" y2="551.0958369439658" stroke="#111" stroke-width="1.05" />
<line x1="427.3958369439658" y1="555.9041630560342" x2="432.20416305603425" y2="551.0958369439658" stroke="#111" stroke-width="1.05" />
<circle cx="490.5" cy="544.8" r="1.6" fill="#fff" stroke="#222" stroke-width="0.7"/>
<circle cx="496.5" cy="544.8" r="1.6" fill="#fff" stroke="#222" stroke-width="0.7"/>
<text x="489.2" y="552" font-size="6.6" fill="#1e1e1e" font-weight="bold" text-anchor="middle" dominant-baseline="central" transform="rotate(-90 489.2 552)">5,50</text>
<text x="498.3" y="552" font-size="6.6" fill="#1e1e1e" font-weight="bold" text-anchor="middle" dominant-baseline="central" transform="rotate(-90 498.3 552)">2,50</text>
<line x1="493.7" y1="546" x2="493.7" y2="579.8" stroke="#ababab" stroke-width="0.9" />
<line x1="392.7" y1="519.9" x2="392.7" y2="568" stroke="#ababab" stroke-width="0.9" />
<text x="388" y="544.8" font-size="7.2" fill="#1e1e1e" font-weight="bold" text-anchor="middle" dominant-baseline="central" transform="rotate(-90 388 544.8)">1,20</text>
<text x="398" y="544.8" font-size="7.2" fill="#1e1e1e" font-weight="bold" text-anchor="middle" dominant-baseline="central" transform="rotate(-90 398 544.8)">2,40</text>
<line x1="378.6" y1="536.8" x2="407.1" y2="536.8" stroke="#777" stroke-width="0.6" />
<line x1="378.6" y1="538.9" x2="407.1" y2="538.9" stroke="#777" stroke-width="0.6" />
<line x1="590.1" y1="504.2" x2="590.1" y2="553.5" stroke="#ababab" stroke-width="0.9" />
<text x="585.3" y="529.3" font-size="7.2" fill="#1e1e1e" font-weight="bold" text-anchor="middle" dominant-baseline="central" transform="rotate(-90 585.3 529.3)">1,20</text>
<text x="595.4" y="529.3" font-size="7.2" fill="#1e1e1e" font-weight="bold" text-anchor="middle" dominant-baseline="central" transform="rotate(-90 595.4 529.3)">2,40</text>
<line x1="576.4" y1="521.4" x2="604.2" y2="521.4" stroke="#777" stroke-width="0.6" />
<line x1="576.4" y1="523.5" x2="604.2" y2="523.5" stroke="#777" stroke-width="0.6" />
<line x1="563" y1="448.7" x2="645" y2="448.7" stroke="#444" stroke-width="0.8" />
<line x1="564.3958369439658" y1="451.1041630560342" x2="569.2041630560343" y2="446.29583694396575" stroke="#111" stroke-width="1.05" />
<line x1="565.9958369439657" y1="451.1041630560342" x2="570.8041630560342" y2="446.29583694396575" stroke="#111" stroke-width="1.05" />
<line x1="592.1958369439658" y1="451.1041630560342" x2="597.0041630560343" y2="446.29583694396575" stroke="#111" stroke-width="1.05" />
<line x1="593.7958369439657" y1="451.1041630560342" x2="598.6041630560342" y2="446.29583694396575" stroke="#111" stroke-width="1.05" />
<line x1="624.9958369439659" y1="451.1041630560342" x2="629.8041630560343" y2="446.29583694396575" stroke="#111" stroke-width="1.05" />
<line x1="626.5958369439658" y1="451.1041630560342" x2="631.4041630560342" y2="446.29583694396575" stroke="#111" stroke-width="1.05" />
<line x1="633.1958369439658" y1="451.1041630560342" x2="638.0041630560343" y2="446.29583694396575" stroke="#111" stroke-width="1.05" />
<line x1="634.7958369439657" y1="451.1041630560342" x2="639.6041630560342" y2="446.29583694396575" stroke="#111" stroke-width="1.05" />
<text x="581.8" y="444.9" font-size="7" fill="#666" font-weight="normal" text-anchor="middle" dominant-baseline="central">1,10</text>
<text x="559.3" y="444.9" font-size="7" fill="#666" font-weight="normal" text-anchor="middle" dominant-baseline="central">10</text>
<text x="592.8" y="438.9" font-size="7" fill="#666" font-weight="normal" text-anchor="middle" dominant-baseline="central">10</text>
<text x="611" y="444.9" font-size="7" fill="#c9956a" font-weight="normal" text-anchor="middle" dominant-baseline="central">1,20</text>
<text x="645.5" y="444.6" font-size="7.2" fill="#666" font-weight="normal" text-anchor="middle" dominant-baseline="central">40</text>
<line x1="654.6" y1="456" x2="654.6" y2="544" stroke="#555" stroke-width="0.8" />
<line x1="651.3958369439658" y1="462.3041630560342" x2="656.2041630560343" y2="457.49583694396574" stroke="#111" stroke-width="1.05" />
<line x1="652.9958369439657" y1="462.3041630560342" x2="657.8041630560342" y2="457.49583694396574" stroke="#111" stroke-width="1.05" />
<line x1="651.3958369439658" y1="486.40416305603424" x2="656.2041630560343" y2="481.59583694396576" stroke="#111" stroke-width="1.05" />
<line x1="652.9958369439657" y1="486.40416305603424" x2="657.8041630560342" y2="481.59583694396576" stroke="#111" stroke-width="1.05" />
<line x1="651.4" y1="522.0" x2="657.8000000000001" y2="515.5999999999999" stroke="#111" stroke-width="0.9" />
<line x1="651.4" y1="532.0" x2="657.8000000000001" y2="525.5999999999999" stroke="#111" stroke-width="0.9" />
<line x1="651.4" y1="543.6" x2="657.8000000000001" y2="537.1999999999999" stroke="#111" stroke-width="0.9" />
<text x="650.7" y="451.6" font-size="7.2" fill="#666" font-weight="normal" text-anchor="middle" dominant-baseline="central" transform="rotate(-90 650.7 451.6)">10</text>
<text x="650.7" y="472.3" font-size="7.2" fill="#666" font-weight="normal" text-anchor="middle" dominant-baseline="central" transform="rotate(-90 650.7 472.3)">90</text>
<text x="645.3" y="483.1" font-size="7.2" fill="#666" font-weight="normal" text-anchor="middle" dominant-baseline="central" transform="rotate(-90 645.3 483.1)">10</text>
<text x="650.7" y="502.2" font-size="7.2" fill="#666" font-weight="normal" text-anchor="middle" dominant-baseline="central" transform="rotate(-90 650.7 502.2)">1,40</text>
<text x="645.3" y="522.1" font-size="7.2" fill="#666" font-weight="normal" text-anchor="middle" dominant-baseline="central" transform="rotate(-90 645.3 522.1)">40</text>
<text x="650.7" y="547.9" font-size="7.2" fill="#666" font-weight="normal" text-anchor="middle" dominant-baseline="central" transform="rotate(-90 650.7 547.9)">50</text>
<text x="384.3" y="479.7" font-size="7" fill="#333" font-weight="normal" text-anchor="end" dominant-baseline="central">75</text>
<text x="384.3" y="490.3" font-size="7" fill="#333" font-weight="normal" text-anchor="end" dominant-baseline="central">10</text>
<text x="603" y="468" font-size="7" fill="#333" font-weight="normal" text-anchor="end" dominant-baseline="central">75</text>
<text x="607.5" y="478" font-size="7" fill="#333" font-weight="normal" text-anchor="end" dominant-baseline="central">10</text>
<line x1="373.6" y1="485" x2="412.5" y2="485" stroke="#999" stroke-width="0.8" />
<line x1="570.5" y1="472.8" x2="595.4" y2="472.8" stroke="#999" stroke-width="0.8" />
<path d="M388,477.2 A16,16 0 0 1 403.5,492.7 L388,492.7" fill="none" stroke="#333" stroke-width="0.7"/>
<path d="M579.4,480.6 A16,16 0 0 1 595.4,464.8" fill="none" stroke="#333" stroke-width="0.7"/>
<line x1="579.4" y1="480.6" x2="595.4" y2="480.6" stroke="#333" stroke-width="0.7" />
<path d="M407.1,509 A27.8,27.8 0 0 0 379.3,536.8" fill="none" stroke="#333" stroke-width="0.7"/>
<line x1="407.1" y1="509" x2="407.1" y2="536.8" stroke="#333" stroke-width="0.7" />
<path d="M576.4,494.1 A27.3,27.3 0 0 1 603.7,521.4" fill="none" stroke="#333" stroke-width="0.7"/>
<line x1="576.4" y1="494.1" x2="576.4" y2="521.4" stroke="#333" stroke-width="0.7" />
<rect x="349.7" y="473.8" width="5" height="9.6" rx="1.5" fill="#f6dcf6" stroke="#d35ad6" stroke-width="0.9"/>
<ellipse cx="360" cy="478.6" rx="6" ry="4.6" fill="#fbeefb" stroke="#d35ad6" stroke-width="0.9"/>
<ellipse cx="375.3" cy="490.3" rx="5.2" ry="4.2" fill="#fbeefb" stroke="#d35ad6" stroke-width="0.9"/>
<circle cx="375.3" cy="490.8" r="1.4" fill="none" stroke="#d35ad6" stroke-width="0.7"/>
<line x1="375.3" y1="486.5" x2="375.3" y2="494.5" stroke="#d35ad6" stroke-width="0.7" />
<path d="M598.5,460.6 L609,460.6 L609,463 A5.25,5.5 0 0 1 598.5,463 Z" fill="#fbeefb" stroke="#d35ad6" stroke-width="0.9"/>
<circle cx="603.7" cy="464" r="1.4" fill="none" stroke="#d35ad6" stroke-width="0.7"/>
<ellipse cx="618.5" cy="472.2" rx="6.3" ry="4.6" fill="#fbeefb" stroke="#d35ad6" stroke-width="0.9"/>
<rect x="623.4" y="467.2" width="4.6" height="10" rx="1.5" fill="#f6dcf6" stroke="#d35ad6" stroke-width="0.9"/>
<rect x="9.9" y="684.9" width="202" height="27.8" rx="2.5" fill="#fff" stroke="#c6c8ca" stroke-width="1.1"/>
<path d="M205.6,684.4 L210,684.4 Q212.4,684.4 212.4,687 L212.4,710.6 Q212.4,713.2 210,713.2 L205.6,713.2 Z" fill="#c9cccf"/>
<rect x="11.8" y="686.3" width="24.5" height="24.7" fill="#efbfc3"/>
<polygon points="11.8,696.3 22.2,686.3 25.9,686.3 36.3,696.3 36.3,698.3 11.8,698.3" fill="#fff"/>
<circle cx="23.9" cy="692.6" r="2" fill="#c9cccf"/>
<path d="M19.3,711 L19.3,704 A4.7,4.7 0 0 1 28.7,704 L28.7,711 Z" fill="#fff"/>
<path d="M20.4,711 L20.4,704.2 A3.6,3.6 0 0 1 27.6,704.2 L27.6,711 Z" fill="#c9cccf"/>
<g transform="scale(0.86,1)"><text y="706.4" font-size="19.9" font-weight="bold" stroke-width="0.7"><tspan x="48.95" fill="#efbfc3" stroke="#efbfc3">I</tspan><tspan x="56.63" fill="#efbfc3" stroke="#efbfc3">N</tspan><tspan x="72.44" fill="#efbfc3" stroke="#efbfc3">G</tspan><tspan x="87.21" fill="#efbfc3" stroke="#efbfc3">A</tspan><tspan x="103.60" fill="#efbfc3" stroke="#efbfc3">T</tspan><tspan x="117.91" fill="#efbfc3" stroke="#efbfc3">L</tspan><tspan x="130.23" fill="#efbfc3" stroke="#efbfc3">A</tspan><tspan x="146.40" fill="#efbfc3" stroke="#efbfc3">N</tspan><tspan x="163.60" fill="#efbfc3" stroke="#efbfc3">O</tspan><tspan x="178.95" fill="#efbfc3" stroke="#efbfc3">K</tspan><tspan x="194.19" fill="#c9cccf" stroke="#c9cccf">.</tspan><tspan x="201.40" fill="#efbfc3" stroke="#efbfc3">H</tspan><tspan x="216.74" fill="#efbfc3" stroke="#efbfc3">U</tspan></text></g>
<polygon points="359.40,556.00 336.40,478.20 348.70,247.30 370.80,247.30 370.80,250.00 351.26,250.00 339.12,477.88 361.99,555.23" fill="url(#ins)" stroke="none"/>
<polyline points="361.99,555.23 339.12,477.88 351.26,250.00 370.80,250.00" fill="none" stroke="#111" stroke-width="0.7"/>
<polyline points="359.40,556.00 336.40,478.20 348.70,247.30 370.80,247.30" fill="none" stroke="#111" stroke-width="1"/>
<polygon points="414.10,247.30 433.20,247.30 433.20,250.00 414.10,250.00" fill="url(#ins)" stroke="none"/>
<polyline points="414.10,250.00 433.20,250.00" fill="none" stroke="#111" stroke-width="0.7"/>
<polyline points="414.10,247.30 433.20,247.30" fill="none" stroke="#111" stroke-width="1"/>
<polygon points="476.40,247.30 488.80,247.30 488.80,225.40 511.60,225.40 511.60,228.10 491.50,228.10 491.50,250.00 476.40,250.00" fill="url(#ins)" stroke="none"/>
<polyline points="476.40,250.00 491.50,250.00 491.50,228.10 511.60,228.10" fill="none" stroke="#111" stroke-width="0.7"/>
<polyline points="476.40,247.30 488.80,247.30 488.80,225.40 511.60,225.40" fill="none" stroke="#111" stroke-width="1"/>
<polygon points="554.20,225.40 572.40,225.40 572.40,228.10 554.20,228.10" fill="url(#ins)" stroke="none"/>
<polyline points="554.20,228.10 572.40,228.10" fill="none" stroke="#111" stroke-width="0.7"/>
<polyline points="554.20,225.40 572.40,225.40" fill="none" stroke="#111" stroke-width="1"/>
<polygon points="615.50,225.60 637.20,225.60 637.20,541.40 634.50,541.40 634.50,228.30 615.50,228.30" fill="url(#ins)" stroke="none"/>
<polyline points="615.50,228.30 634.50,228.30 634.50,541.40" fill="none" stroke="#111" stroke-width="0.7"/>
<polyline points="615.50,225.60 637.20,225.60 637.20,541.40" fill="none" stroke="#111" stroke-width="1"/>
<polygon points="426.90,555.70 407.10,555.70 407.10,534.10 409.80,534.10 409.80,553.00 426.90,553.00" fill="url(#ins)" stroke="none"/>
<polyline points="426.90,553.00 409.80,553.00 409.80,534.10" fill="none" stroke="#111" stroke-width="0.7"/>
<polyline points="426.90,555.70 407.10,555.70 407.10,534.10" fill="none" stroke="#111" stroke-width="1"/>
<polygon points="575.90,518.70 575.90,555.90 560.60,555.90 560.60,553.20 573.20,553.20 573.20,518.70" fill="url(#ins)" stroke="none"/>
<polyline points="573.20,518.70 573.20,553.20 560.60,553.20" fill="none" stroke="#111" stroke-width="0.7"/>
<polyline points="575.90,518.70 575.90,555.90 560.60,555.90" fill="none" stroke="#111" stroke-width="1"/>
<polygon points="378.60,542.80 363.40,542.80 363.40,540.60 378.60,540.60" fill="url(#ins)" stroke="none"/>
<polyline points="378.60,540.60 363.40,540.60" fill="none" stroke="#111" stroke-width="0.7"/>
<polyline points="378.60,542.80 363.40,542.80" fill="none" stroke="#111" stroke-width="1"/>
<polygon points="627.50,528.20 604.20,528.20 604.20,526.00 627.50,526.00" fill="url(#ins)" stroke="none"/>
<polyline points="627.50,526.00 604.20,526.00" fill="none" stroke="#111" stroke-width="0.7"/>
<polyline points="627.50,528.20 604.20,528.20" fill="none" stroke="#111" stroke-width="1"/>
<line x1="516.6" y1="174" x2="516.6" y2="613" stroke="#b8cfe6" stroke-width="1" stroke-dasharray="8.8,3.6,0.7,3.5"/>
<line x1="306" y1="423.9" x2="652" y2="423.9" stroke="#b8cfe6" stroke-width="1" stroke-dasharray="8.8,3.6,0.7,3.5"/>
</svg>
</body></html>
